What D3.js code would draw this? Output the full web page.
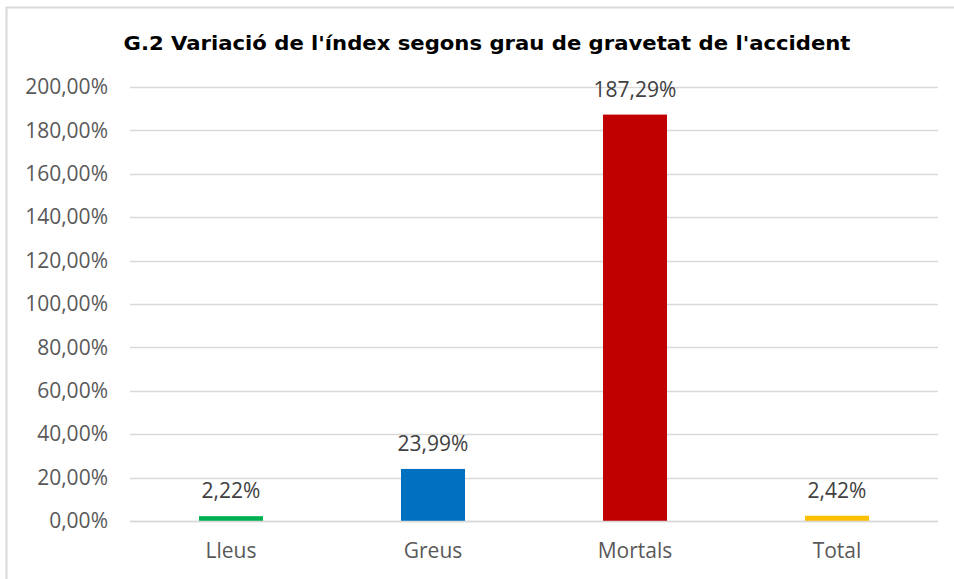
<!DOCTYPE html>
<html>
<head>
<meta charset="utf-8">
<script src="https://cdn.jsdelivr.net/npm/d3@7"></script>
<style>
  body { margin: 0; background: #fff; }
  svg { display: block; }
</style>
</head>
<body>
<div id="chart"></div>
<script>
(() => {
  let categories = ['Lleus', 'Greus', 'Mortals', 'Total']
  let values = [2.22, 23.99, 187.29, 2.42]
  let barColors = ['#00B050', '#0070C0', '#C00000', '#FFC000']
  let yTicks = [0, 20, 40, 60, 80, 100, 120, 140, 160, 180, 200]
  let title = "G.2 Variació de l'índex segons grau de gravetat de l'accident"

  let width = 954
  let height = 579

  let margin = { top: 87, right: 16, bottom: 58, left: 130 }

  let fmt = (v) => v.toFixed(2).replace('.', ',') + '%'

  let svg = d3.select('#chart')
              .append('svg')
                .attr('width', width)
                .attr('height', height)

  // chart frame (only left and top edges visible in the reference)
  svg.append('path')
    .attr('d', 'M6.5,' + height + ' V7.5 H' + width)
    .attr('fill', 'none')
    .attr('stroke', '#d9d9d9')
    .attr('stroke-width', 2)

  svg.append('text')
    .attr('x', 487)
    .attr('y', 50)
    .attr('text-anchor', 'middle')
    .attr('font-family', 'DejaVu Sans, Verdana, sans-serif')
    .attr('font-weight', 'bold')
    .attr('font-size', '20px')
    .attr('textLength', 727)
    .attr('lengthAdjust', 'spacingAndGlyphs')
    .attr('fill', '#000')
    .text(title)

  let xScale = d3.scaleBand()
                .domain(categories)
                .range([margin.left, width - margin.right])
                .paddingInner(0.683)
                .paddingOuter(0.3415)

  let yScale = d3.scaleLinear()
                .domain([0, 200])
                .range([height - margin.bottom, margin.top])

  // gridlines
  svg.append('g')
    .selectAll('line')
    .data(yTicks)
    .enter()
    .append('line')
      .attr('x1', margin.left)
      .attr('x2', width - margin.right)
      .attr('y1', (d) => Math.round(yScale(d)) + 0.5)
      .attr('y2', (d) => Math.round(yScale(d)) + 0.5)
      .attr('stroke', '#d9d9d9')
      .attr('stroke-width', 1.5)

  // y axis labels
  let yAxis = d3.axisLeft(yScale)
                .tickValues(yTicks)
                .tickFormat(fmt)
                .tickSize(0)
                .tickPadding(22)

  let yG = svg.append('g')
    .attr('transform', 'translate(' + margin.left + ',0)')
    .call(yAxis)
  yG.select('.domain').remove()
  yG.selectAll('text')
    .attr('font-family', 'Open Sans, sans-serif')
    .attr('font-size', '21px')
    .attr('fill', '#595959')

  // bars
  svg.append('g')
    .selectAll('rect')
    .data(values)
    .enter()
    .append('rect')
      .attr('x', (d, i) => xScale(categories[i]))
      .attr('width', xScale.bandwidth())
      .attr('y', (d) => yScale(d))
      .attr('height', (d) => yScale(0) - yScale(d))
      .attr('fill', (d, i) => barColors[i])

  // zero line drawn over bars
  svg.append('line')
    .attr('x1', margin.left)
    .attr('x2', width - margin.right)
    .attr('y1', Math.round(yScale(0)) + 0.5)
    .attr('y2', Math.round(yScale(0)) + 0.5)
    .attr('stroke', '#d9d9d9')
    .attr('stroke-width', 1.5)

  // data labels
  svg.append('g')
    .selectAll('text')
    .data(values)
    .enter()
    .append('text')
      .attr('x', (d, i) => xScale(categories[i]) + xScale.bandwidth() / 2)
      .attr('y', (d) => yScale(d) - 18)
      .attr('text-anchor', 'middle')
      .attr('font-family', 'Open Sans, sans-serif')
      .attr('font-size', '21px')
      .attr('fill', '#404040')
      .text(fmt)

  // x axis labels
  let xAxis = d3.axisBottom(xScale)
                .tickSize(0)
                .tickPadding(22)

  let xG = svg.append('g')
    .attr('transform', 'translate(0,' + yScale(0) + ')')
    .call(xAxis)
  xG.select('.domain').remove()
  xG.selectAll('text')
    .attr('font-family', 'Open Sans, sans-serif')
    .attr('font-size', '21px')
    .attr('fill', '#595959')
})()
</script>
</body>
</html>
